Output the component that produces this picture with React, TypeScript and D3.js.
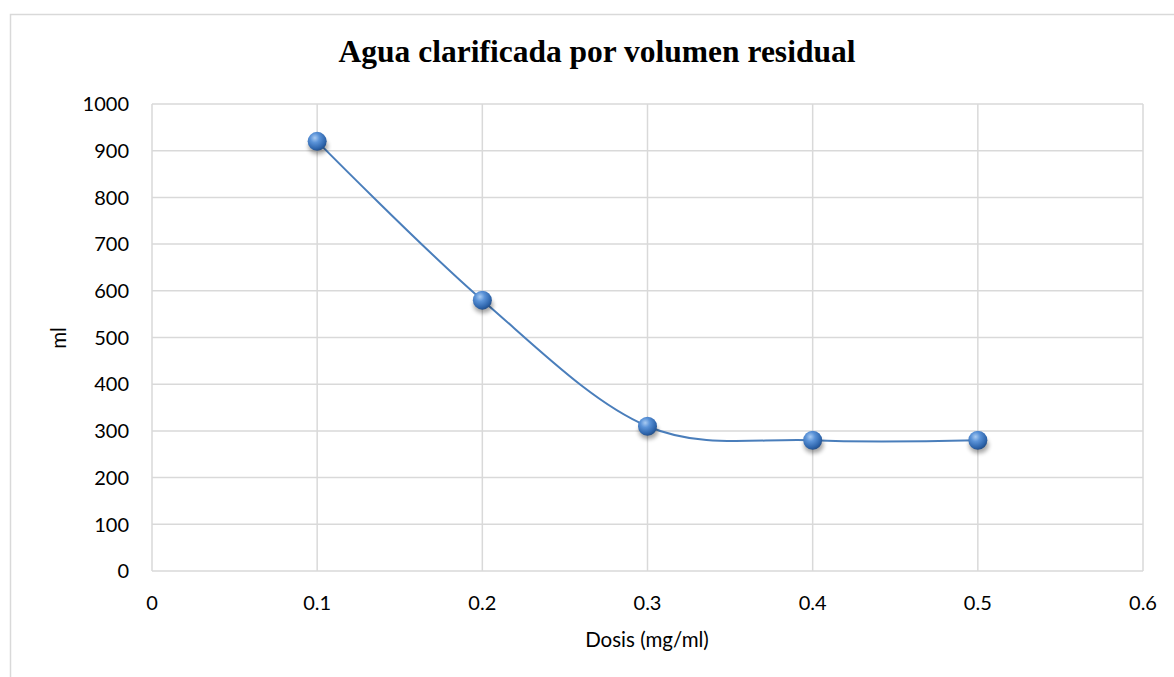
import React from 'react';
import * as d3 from 'd3';

// chart data
const dosis = [0.1, 0.2, 0.3, 0.4, 0.5];
const volumen = [920, 580, 310, 280, 280];
const xTicks = [0, 0.1, 0.2, 0.3, 0.4, 0.5, 0.6];
const yTicks = [0, 100, 200, 300, 400, 500, 600, 700, 800, 900, 1000];

const titulo = 'Agua clarificada por volumen residual';
const xTitulo = 'Dosis (mg/ml)';
const yTitulo = 'ml';

const width = 1174;
const height = 677;
const margin = { left: 152, right: 31, top: 104, bottom: 106 };

export default function App() {
  const xScale = d3.scaleLinear()
    .domain([0, 0.6])
    .range([margin.left, width - margin.right]);

  const yScale = d3.scaleLinear()
    .domain([0, 1000])
    .range([height - margin.bottom, margin.top]);

  const points: [number, number][] = dosis.map((d, i) => [d, volumen[i]]);

  const line = d3.line<[number, number]>()
    .x(d => xScale(d[0]))
    .y(d => yScale(d[1]))
    .curve(d3.curveCardinal.tension(0));

  const labelFont = 'Lato, "Open Sans", sans-serif';

  return (
    <svg width={width} height={height} viewBox={`0 0 ${width} ${height}`}
      style={{ position: 'absolute', left: 0, top: 0, background: '#fff' }}>
      <defs>
        <radialGradient id="bola" cx="0.38" cy="0.32" r="0.7">
          <stop offset="0" stopColor="#a9cbf2" />
          <stop offset="0.35" stopColor="#5b93d8" />
          <stop offset="0.8" stopColor="#2f66ad" />
          <stop offset="1" stopColor="#234f8a" />
        </radialGradient>
        <filter id="sombra" x="-50%" y="-50%" width="200%" height="200%">
          <feGaussianBlur stdDeviation="2.2" />
        </filter>
      </defs>

      {/* chart border */}
      <path d={`M10.5,${height} V14.5 H${width}`} fill="none" stroke="#d9d9d9" strokeWidth={1.5} />

      <text x={597} y={62} textAnchor="middle" fontFamily='"Liberation Serif", "Times New Roman", serif'
        fontWeight="bold" fontSize={31.5}>{titulo}</text>

      {/* grid */}
      {yTicks.map(t => (
        <line key={'gy' + t} x1={xScale(0)} x2={xScale(0.6)} y1={yScale(t)} y2={yScale(t)}
          stroke="#d9d9d9" strokeWidth={1.5} />
      ))}
      {xTicks.map(t => (
        <line key={'gx' + t} x1={xScale(t)} x2={xScale(t)} y1={yScale(0)} y2={yScale(1000)}
          stroke="#d9d9d9" strokeWidth={1.5} />
      ))}

      {/* tick labels */}
      {yTicks.map(t => (
        <text key={'ty' + t} x={xScale(0) - 23} y={yScale(t)} dy="0.36em" textAnchor="end"
          fontFamily={labelFont} fontSize={20} fill="#000">{t}</text>
      ))}
      {xTicks.map(t => (
        <text key={'tx' + t} x={xScale(t)} y={yScale(0) + 39} textAnchor="middle"
          fontFamily={labelFont} fontSize={20} fill="#000">{d3.format('')(t)}</text>
      ))}

      <text x={647} y={647} textAnchor="middle" fontFamily={labelFont} fontSize={20.5}>{xTitulo}</text>
      <text transform={`translate(66,338) rotate(-90)`} textAnchor="middle" fontFamily={labelFont}
        fontSize={20.5}>{yTitulo}</text>

      {/* series */}
      <path d={line(points) || ''} fill="none" stroke="#4a7ebb" strokeWidth={2} />

      {points.map((p, i) => (
        <g key={'m' + i}>
          <ellipse cx={xScale(p[0]) + 1} cy={yScale(p[1]) + 5} rx={10} ry={8}
            fill="#000" opacity={0.35} filter="url(#sombra)" />
          <circle cx={xScale(p[0])} cy={yScale(p[1])} r={9.5} fill="url(#bola)" />
        </g>
      ))}
    </svg>
  );
}
